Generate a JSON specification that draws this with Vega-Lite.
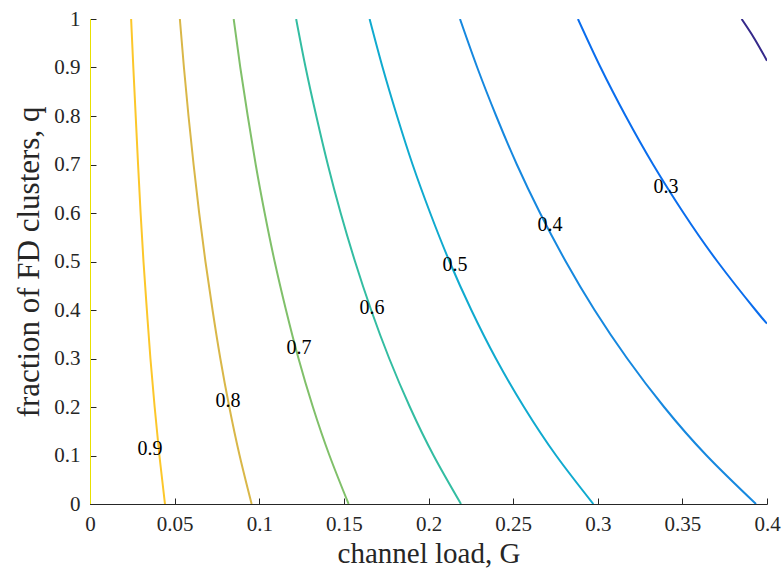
{
  "$schema": "https://vega.github.io/schema/vega-lite/v6.json",
  "width": 677,
  "height": 485,
  "autosize": {"type": "none"},
  "padding": {"left": 90, "top": 19, "right": 16, "bottom": 65},
  "background": "white",
  "config": {"view": {"stroke": null}, "font": "Liberation Serif"},
  "datasets": {
    "lines": [
      {"level": "1", "G": 0, "q": 0}, {"level": "1", "G": 0, "q": 1},
      {"level": "0.9", "G": 0.0443, "q": 0}, {"level": "0.9", "G": 0.0410, "q": 0.1}, {"level": "0.9", "G": 0.0382, "q": 0.2}, {"level": "0.9", "G": 0.0357, "q": 0.3}, {"level": "0.9", "G": 0.0336, "q": 0.4}, {"level": "0.9", "G": 0.0316, "q": 0.5}, {"level": "0.9", "G": 0.0299, "q": 0.6}, {"level": "0.9", "G": 0.0284, "q": 0.7}, {"level": "0.9", "G": 0.0270, "q": 0.8}, {"level": "0.9", "G": 0.0256, "q": 0.9}, {"level": "0.9", "G": 0.0243, "q": 1},
      {"level": "0.8", "G": 0.0955, "q": 0}, {"level": "0.8", "G": 0.0884, "q": 0.1}, {"level": "0.8", "G": 0.0823, "q": 0.2}, {"level": "0.8", "G": 0.0770, "q": 0.3}, {"level": "0.8", "G": 0.0724, "q": 0.4}, {"level": "0.8", "G": 0.0682, "q": 0.5}, {"level": "0.8", "G": 0.0645, "q": 0.6}, {"level": "0.8", "G": 0.0612, "q": 0.7}, {"level": "0.8", "G": 0.0582, "q": 0.8}, {"level": "0.8", "G": 0.0555, "q": 0.9}, {"level": "0.8", "G": 0.0531, "q": 1},
      {"level": "0.7", "G": 0.1528, "q": 0}, {"level": "0.7", "G": 0.1415, "q": 0.1}, {"level": "0.7", "G": 0.1317, "q": 0.2}, {"level": "0.7", "G": 0.1232, "q": 0.3}, {"level": "0.7", "G": 0.1158, "q": 0.4}, {"level": "0.7", "G": 0.1091, "q": 0.5}, {"level": "0.7", "G": 0.1032, "q": 0.6}, {"level": "0.7", "G": 0.0979, "q": 0.7}, {"level": "0.7", "G": 0.0932, "q": 0.8}, {"level": "0.7", "G": 0.0888, "q": 0.9}, {"level": "0.7", "G": 0.0849, "q": 1},
      {"level": "0.6", "G": 0.2192, "q": 0}, {"level": "0.6", "G": 0.2030, "q": 0.1}, {"level": "0.6", "G": 0.1890, "q": 0.2}, {"level": "0.6", "G": 0.1768, "q": 0.3}, {"level": "0.6", "G": 0.1661, "q": 0.4}, {"level": "0.6", "G": 0.1566, "q": 0.5}, {"level": "0.6", "G": 0.1481, "q": 0.6}, {"level": "0.6", "G": 0.1405, "q": 0.7}, {"level": "0.6", "G": 0.1337, "q": 0.8}, {"level": "0.6", "G": 0.1274, "q": 0.9}, {"level": "0.6", "G": 0.1218, "q": 1},
      {"level": "0.5", "G": 0.2974, "q": 0}, {"level": "0.5", "G": 0.2754, "q": 0.1}, {"level": "0.5", "G": 0.2564, "q": 0.2}, {"level": "0.5", "G": 0.2398, "q": 0.3}, {"level": "0.5", "G": 0.2253, "q": 0.4}, {"level": "0.5", "G": 0.2124, "q": 0.5}, {"level": "0.5", "G": 0.2010, "q": 0.6}, {"level": "0.5", "G": 0.1906, "q": 0.7}, {"level": "0.5", "G": 0.1814, "q": 0.8}, {"level": "0.5", "G": 0.1729, "q": 0.9}, {"level": "0.5", "G": 0.1652, "q": 1},
      {"level": "0.4", "G": 0.3935, "q": 0}, {"level": "0.4", "G": 0.3643, "q": 0.1}, {"level": "0.4", "G": 0.3392, "q": 0.2}, {"level": "0.4", "G": 0.3174, "q": 0.3}, {"level": "0.4", "G": 0.2981, "q": 0.4}, {"level": "0.4", "G": 0.2811, "q": 0.5}, {"level": "0.4", "G": 0.2659, "q": 0.6}, {"level": "0.4", "G": 0.2522, "q": 0.7}, {"level": "0.4", "G": 0.2400, "q": 0.8}, {"level": "0.4", "G": 0.2288, "q": 0.9}, {"level": "0.4", "G": 0.2186, "q": 1},
      {"level": "0.3", "G": 0.4, "q": 0.372}, {"level": "0.3", "G": 0.3932, "q": 0.4}, {"level": "0.3", "G": 0.3707, "q": 0.5}, {"level": "0.3", "G": 0.3507, "q": 0.6}, {"level": "0.3", "G": 0.3327, "q": 0.7}, {"level": "0.3", "G": 0.3165, "q": 0.8}, {"level": "0.3", "G": 0.3017, "q": 0.9}, {"level": "0.3", "G": 0.2883, "q": 1},
      {"level": "0.2", "G": 0.4, "q": 0.914}, {"level": "0.2", "G": 0.3925, "q": 0.96}, {"level": "0.2", "G": 0.385, "q": 1}
    ],
    "labels": [
      {"text": "0.9", "G": 0.0355, "q": 0.113},
      {"text": "0.8", "G": 0.0815, "q": 0.212},
      {"text": "0.7", "G": 0.1235, "q": 0.322},
      {"text": "0.6", "G": 0.1666, "q": 0.404},
      {"text": "0.5", "G": 0.2157, "q": 0.493},
      {"text": "0.4", "G": 0.2718, "q": 0.575},
      {"text": "0.3", "G": 0.3403, "q": 0.654}
    ]
  },
  "encoding": {
    "x": {
      "field": "G", "type": "quantitative",
      "scale": {"domain": [0, 0.4], "nice": false, "zero": false},
      "axis": {
        "title": "channel load, G", "values": [0, 0.05, 0.1, 0.15, 0.2, 0.25, 0.3, 0.35, 0.4],
        "format": ".2~f", "grid": false, "domainColor": "#262626", "tickColor": "#262626",
        "tickSize": -6, "labelPadding": 15, "labelColor": "#262626", "labelFontSize": 21,
        "labelFont": "Liberation Serif", "titleFont": "Liberation Serif", "titleFontSize": 29,
        "titleFontWeight": "normal", "titleColor": "#262626", "titlePadding": 5, "labelFlush": false
      }
    },
    "y": {
      "field": "q", "type": "quantitative",
      "scale": {"domain": [0, 1], "nice": false, "zero": false},
      "axis": {
        "title": "fraction of FD clusters, q", "values": [0, 0.1, 0.2, 0.3, 0.4, 0.5, 0.6, 0.7, 0.8, 0.9, 1],
        "format": ".1~f", "grid": false, "domainColor": "#262626", "tickColor": "#262626",
        "tickSize": -6, "labelPadding": 16, "labelColor": "#262626", "labelFontSize": 21,
        "labelFont": "Liberation Serif", "titleFont": "Liberation Serif", "titleFontSize": 31,
        "titleFontWeight": "normal", "titleColor": "#262626", "titlePadding": 8, "labelFlush": false
      }
    }
  },
  "layer": [
    {
      "data": {"name": "lines"},
      "mark": {"type": "line", "strokeWidth": 2, "clip": true, "interpolate": "natural"},
      "encoding": {
        "order": {"field": "q", "type": "quantitative"},
        "color": {
          "field": "level", "type": "nominal", "legend": null,
          "scale": {
            "domain": ["1", "0.9", "0.8", "0.7", "0.6", "0.5", "0.4", "0.3", "0.2"],
            "range": ["#e8e000", "#fcc72a", "#d9b748", "#80c06a", "#33bda2", "#10aacf", "#1688df", "#0a6ded", "#35298a"]
          }
        }
      }
    },
    {
      "data": {"name": "labels"},
      "mark": {"type": "text", "font": "Liberation Serif", "fontSize": 20, "color": "#000000", "align": "center", "baseline": "middle"},
      "encoding": {"text": {"field": "text", "type": "nominal"}}
    }
  ]
}
